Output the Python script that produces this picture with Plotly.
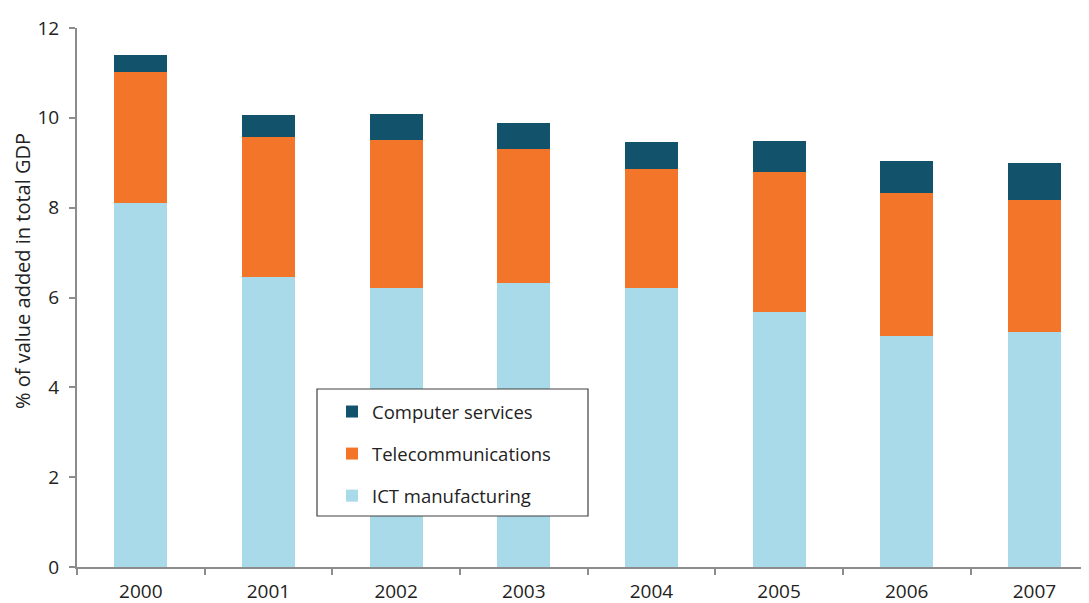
import plotly.graph_objects as go

years = ["2000", "2001", "2002", "2003", "2004", "2005", "2006", "2007"]
ict_manufacturing = [8.10, 6.46, 6.21, 6.33, 6.21, 5.68, 5.14, 5.23]
telecommunications = [2.92, 3.12, 3.30, 2.98, 2.65, 3.12, 3.19, 2.94]
computer_services = [0.38, 0.49, 0.58, 0.58, 0.61, 0.69, 0.71, 0.83]
y_title = "% of value added in total GDP"

font_family = "Open Sans, Liberation Sans, sans-serif"

fig = go.Figure()
fig.add_trace(go.Bar(x=years, y=ict_manufacturing, name="ICT manufacturing",
                     marker=dict(color="#A8DAEA", line=dict(width=0)),
                     legendgroup="a", legendrank=3, width=0.415))
fig.add_trace(go.Bar(x=years, y=telecommunications, name="Telecommunications",
                     marker=dict(color="#F2752A", line=dict(width=0)),
                     legendgroup="b", legendrank=2, width=0.415))
fig.add_trace(go.Bar(x=years, y=computer_services, name="Computer services",
                     marker=dict(color="#12526B", line=dict(width=0)),
                     legendgroup="c", legendrank=1, width=0.415))

# page offset (body margin) of 8 px
OFF = 8
W, H = 1089, 603
L = 77 - OFF
T = 28 - OFF
B = H - (567 - OFF)
R = W - (1088 - OFF)
pw = W - L - R
ph = H - T - B

def px_x(p):
    return (p - OFF - L) / pw

def px_y(p):
    return (H - B - (p - OFF)) / ph

fig.update_layout(
    width=W, height=H,
    margin=dict(l=L, r=R, t=T, b=B, autoexpand=False),
    barmode="stack",
    plot_bgcolor="white", paper_bgcolor="white",
    font=dict(family=font_family, size=17, color="#222222"),
    showlegend=True,
    legend=dict(
        x=px_x(332), y=px_y(393), xanchor="left", yanchor="top",
        traceorder="grouped", tracegroupgap=15,
        font=dict(size=18.5, color="#222222", family=font_family),
        bgcolor="rgba(0,0,0,0)", borderwidth=0,
        itemwidth=30,
    ),
    xaxis=dict(
        type="category", range=[-0.5, 7.42], automargin=False,
        showline=True, linecolor="#8C8C8C", linewidth=2,
        ticks="outside", tickson="boundaries", ticklen=6, tickcolor="#8C8C8C", tickwidth=2,
        tickfont=dict(size=19, color="#222222"),
        ticklabelstandoff=6,
        showgrid=False, zeroline=False,
    ),
    yaxis=dict(
        range=[0, 12], dtick=2, automargin=False,
        showline=True, linecolor="#8C8C8C", linewidth=2,
        ticks="outside", ticklen=6, tickcolor="#8C8C8C", tickwidth=2,
        tickfont=dict(size=19, color="#222222"),
        ticklabelstandoff=6,
        showgrid=False, zeroline=False,
    ),
    annotations=[dict(text=y_title, textangle=-90, xref="paper", yref="paper",
                      x=px_x(22), y=px_y(271), xanchor="center", yanchor="middle",
                      showarrow=False, font=dict(size=20, color="#222222"))],
    shapes=[dict(type="rect", xref="paper", yref="paper",
                 x0=px_x(317), x1=px_x(588), y0=px_y(516), y1=px_y(389),
                 line=dict(color="#404040", width=1.2), fillcolor="white", layer="above")],
)

fig.write_html("out.html")
